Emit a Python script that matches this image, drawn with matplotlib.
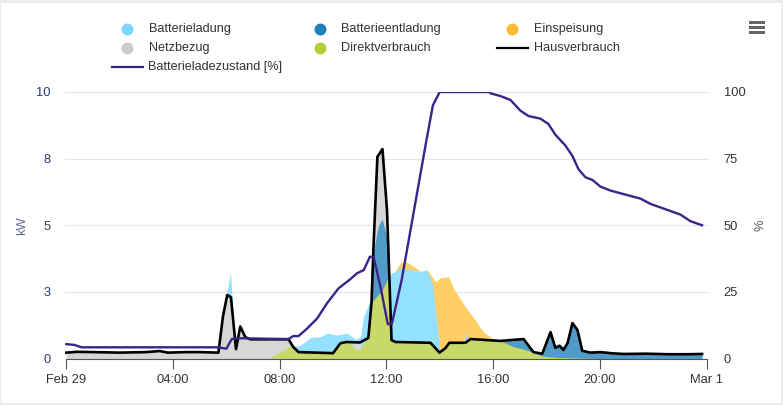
"""Energy flow of one day: stacked PV/battery/grid areas with house load and battery state of charge."""

import matplotlib.pyplot as plt
from matplotlib.lines import Line2D
from matplotlib.patches import Rectangle

WIDTH, HEIGHT = 783, 405

X_TICKS = [0, 4, 8, 12, 16, 20, 24]
X_LABELS = ["Feb 29", "04:00", "08:00", "12:00", "16:00", "20:00", "Mar 1"]
KW_TICKS = [0, 2.5, 5, 7.5, 10]
KW_LABELS = ["0", "3", "5", "8", "10"]
PCT_TICKS = [0, 25, 50, 75, 100]

load_hours = [0, 0.4, 1, 2, 3, 3.5, 3.8, 4.5, 5, 5.7, 5.87, 6.03, 6.17, 6.36, 6.52, 6.71, 6.9, 8.33, 8.5, 8.7,
              10, 10.27, 10.5, 11, 11.28, 11.32, 11.44, 11.51, 11.66, 11.85, 12.02, 12.19, 12.34, 13.65, 13.99, 14.21,
              14.36, 14.96, 15.15, 16.27, 17.14, 17.51, 17.84, 18.15, 18.33, 18.49, 18.63, 18.79, 18.97, 19.16,
              19.34, 19.65, 20.02, 20.4, 20.88, 21.77, 22.52, 23.27, 23.83]
load_kw = [0.22, 0.25, 0.24, 0.22, 0.24, 0.28, 0.22, 0.24, 0.24, 0.22, 1.57, 2.38, 2.3, 0.35, 1.2, 0.8, 0.72, 0.72,
           0.44, 0.24, 0.2, 0.57, 0.62, 0.6, 0.75, 0.77, 2.1, 4.1, 7.57, 7.86, 5.57, 0.69, 0.62, 0.59, 0.22, 0.39, 0.59,
           0.59, 0.73, 0.66, 0.73, 0.24, 0.18, 0.99, 0.4, 0.48, 0.32, 0.58, 1.33, 1.07, 0.29, 0.22, 0.24, 0.2, 0.17,
           0.18, 0.16, 0.16, 0.17]

soc_hours = [0, 0.3, 0.57, 5.6, 5.65, 6.0, 6.2, 6.39, 8.33, 8.5, 8.7, 9.0, 9.4, 9.77, 10.2, 10.65, 10.9, 11.15,
             11.38, 11.52, 11.8, 12.05, 12.2, 12.57, 13.5, 13.74, 13.97, 14.0, 15.85, 15.9, 16.27, 16.65, 17.02,
             17.32, 17.77, 18.07, 18.33, 18.7, 18.97, 19.2, 19.46, 19.72, 20.02, 20.4, 20.96, 21.52, 21.9, 22.46,
             23.02, 23.4, 23.83]
soc_pct = [5.4, 5.1, 4.2, 4.2, 4.2, 3.7, 7.3, 7.6, 7.3, 8.4, 8.4, 11, 15, 20.7, 26.3, 29.8, 32, 33.2, 38.2, 38,
           25.7, 12.9, 12.9, 29.5, 82, 95, 99.5, 100, 100, 99.5, 98.5, 97, 93, 91, 90, 88, 84, 80, 76, 71, 68, 67,
           64.5, 63, 61.5, 60, 58, 56, 54, 51.5, 50]

feed_in_hours = [12.19, 12.27, 12.55, 12.8, 13.3, 13.53, 13.84, 14.02, 14.32, 14.55, 14.96, 15.33, 15.63, 16.0,
                 16.27, 16.4]
feed_in_top = [3.2, 3.2, 3.63, 3.6, 3.26, 3.32, 2.88, 3.03, 3.07, 2.57, 1.94, 1.44, 1.0, 0.73, 0.66, 0.5]

charge_hours = [5.8, 6.0, 6.15, 6.3, 6.4, 8.4, 8.5, 8.78, 9.15, 9.52, 9.77, 10.15, 10.52, 10.84, 11.02, 11.14, 11.4,
                11.84, 12.19, 12.58, 13.27, 13.5, 13.72, 13.99, 14.1, 14.85, 14.96, 15.08, 15.15, 15.3]
charge_top = [0, 2.38, 3.2, 1.0, 0, 0, 0.44, 0.5, 0.78, 0.82, 0.95, 0.88, 0.95, 0.73, 0.8, 1.57, 2.2, 2.57, 3.2, 3.4,
              3.26, 3.32, 2.83, 0.44, 0, 0, 0.95, 0.7, 0.73, 0]

grid_hours = [0, 0.4, 1, 2, 3, 3.5, 3.8, 4.5, 5, 5.7, 5.87, 6.03, 6.17, 6.36, 6.52, 6.71, 6.9, 8.33, 8.5, 8.7, 10.6,
              10.65, 11.02, 11.1, 11.32, 11.44, 11.51, 11.66, 11.85, 12.02, 12.19, 12.25]
grid_top = [0.22, 0.25, 0.24, 0.22, 0.24, 0.28, 0.22, 0.24, 0.24, 0.22, 1.57, 2.38, 2.3, 0.35, 1.2, 0.8, 0.72, 0.72,
            0.44, 0, 0, 0.6, 0.6, 0, 0, 2.1, 4.1, 7.57, 7.86, 5.57, 0.69, 0]

discharge_hours = [11.4, 11.44, 11.51, 11.7, 11.84, 12.06, 12.19, 12.25, 16.2, 16.27, 17.14, 17.51, 17.84, 18.15, 18.33,
                   18.49, 18.63, 18.79, 18.97, 19.16, 19.34, 19.65, 20.02, 20.4, 20.88, 21.77, 22.52, 23.27, 23.83]
discharge_top = [0, 2.1, 4.0, 5.0, 5.23, 4.4, 0.69, 0, 0, 0.66, 0.73, 0.24, 0.18, 0.99, 0.4, 0.48, 0.32, 0.58, 1.33, 1.07,
                 0.29, 0.22, 0.24, 0.2, 0.17, 0.18, 0.16, 0.16, 0.17]

direct_hours = [7.57, 8.02, 8.33, 8.5, 8.7, 10, 10.27, 10.5, 10.65, 10.84, 11.02, 11.14, 11.32, 11.44, 11.84, 12.02,
                12.1, 12.19, 12.34, 13.65, 13.99, 14.21, 14.36, 14.96, 15.15, 16.27, 16.77, 17.14, 17.84, 18.4, 19.9]
direct_top = [0, 0.25, 0.43, 0.44, 0.24, 0.2, 0.57, 0.62, 0.6, 0.32, 0.32, 0.6, 0.77, 2.1, 2.57, 2.95, 3.0, 0.69, 0.62,
              0.59, 0.22, 0.39, 0.59, 0.59, 0.73, 0.66, 0.44, 0.35, 0.09, 0.04, 0]


def add_legend_entry(fig, x_handle, x_text, y, label, color, is_line=False):
    if is_line:
        handle = Line2D([(x_handle - 15.5) / WIDTH, (x_handle + 15.5) / WIDTH], [1 - y / HEIGHT] * 2,
                        transform=fig.transFigure, color=color, lw=1.6)
    else:
        handle = Line2D([x_handle / WIDTH], [1 - y / HEIGHT], transform=fig.transFigure, color=color,
                        marker="o", ms=8.6, mew=0, ls="none")
    fig.add_artist(handle)
    fig.text(x_text / WIDTH, 1 - y / HEIGHT, label, ha="left", va="center", fontsize=9.1, color="#333333")


def main():
    plt.rcParams["font.family"] = ["Liberation Sans", "DejaVu Sans"]
    fig = plt.figure(figsize=(WIDTH / 100, HEIGHT / 100), dpi=100, facecolor="#ebebeb")
    fig.add_artist(Rectangle((1 / WIDTH, 2 / HEIGHT), 780 / WIDTH, 400 / HEIGHT, transform=fig.transFigure,
                             facecolor="white", edgecolor="none", zorder=-1))

    ax = fig.add_axes([65 / WIDTH, (HEIGHT - 358.5) / HEIGHT, 644 / WIDTH, 266.5 / HEIGHT])
    ax.patch.set_alpha(0)
    ax.set_xlim(-0.05, 24.09)
    ax.set_ylim(0, 10)

    ax.fill_between(feed_in_hours, feed_in_top, color="#ffcf66", lw=0, zorder=2)
    ax.fill_between(charge_hours, charge_top, color="#93e1ff", lw=0, zorder=3)
    ax.fill_between(grid_hours, grid_top, color="#d6d8d8", lw=0, zorder=4)
    ax.fill_between(discharge_hours, discharge_top, color="#509bc8", lw=0, zorder=5)
    ax.fill_between(direct_hours, direct_top, color="#c8d969", lw=0, zorder=6)
    ax.plot(load_hours, load_kw, color="black", lw=1.9, zorder=7)

    ax.grid(axis="y", color="#e6e6e6", lw=0.8)
    ax.set_axisbelow(True)
    for spine in ("top", "left", "right"):
        ax.spines[spine].set_visible(False)
    ax.spines["bottom"].set_bounds(0, 24)
    ax.spines["bottom"].set_color("#555555")
    ax.spines["bottom"].set_linewidth(0.8)
    ax.spines["bottom"].set_zorder(8)

    ax.set_xticks(X_TICKS, X_LABELS)
    ax.tick_params(axis="x", length=7, width=0.8, color="#555555", labelcolor="#333333", labelsize=9.3, pad=4.5)
    ax.set_yticks(KW_TICKS, KW_LABELS)
    ax.tick_params(axis="y", length=0, labelcolor="#2e3a6e", labelsize=9.3, pad=10.5)
    ax.set_ylabel("kW", fontsize=9.3, color="#5c6b8c")
    ax.yaxis.set_label_coords((28 - 65) / 644, 0.5)

    ax_soc = ax.twinx()
    ax_soc.patch.set_alpha(0)
    ax_soc.set_ylim(0, 100)
    ax_soc.set_zorder(ax.get_zorder() + 1)
    ax_soc.plot(soc_hours, soc_pct, color="#3c2387", lw=1.7, zorder=8)
    for spine in ax_soc.spines.values():
        spine.set_visible(False)
    ax_soc.set_yticks(PCT_TICKS)
    ax_soc.tick_params(axis="y", length=0, labelcolor="#333333", labelsize=9.3, pad=10.5)
    ax_soc.set_ylabel("%", fontsize=9.3, color="#555555", rotation=90)
    ax_soc.yaxis.set_label_coords((755 - 65) / 644, 0.5)

    add_legend_entry(fig, 127, 148.5, 29, "Batterieladung", "#7fd8ff")
    add_legend_entry(fig, 320, 341.5, 29, "Batterieentladung", "#1f7fb8")
    add_legend_entry(fig, 512, 534, 29, "Einspeisung", "#ffbb33")
    add_legend_entry(fig, 127, 148.5, 47.7, "Netzbezug", "#c8cccc")
    add_legend_entry(fig, 320, 341.5, 47.7, "Direktverbrauch", "#b5cf30")
    add_legend_entry(fig, 512.5, 534, 47.7, "Hausverbrauch", "black", is_line=True)
    add_legend_entry(fig, 127, 148.5, 66.7, "Batterieladezustand [%]", "#3c2387", is_line=True)

    # hamburger menu, top right
    for y in (21, 26.5, 31.5):
        fig.add_artist(Rectangle((749 / WIDTH, 1 - (y + 2.5) / HEIGHT), 16 / WIDTH, 2.6 / HEIGHT,
                                 transform=fig.transFigure, facecolor="#666666", edgecolor="none"))

    fig.savefig("out.png", dpi=100, facecolor=fig.get_facecolor())
    plt.close(fig)


if __name__ == "__main__":
    main()
